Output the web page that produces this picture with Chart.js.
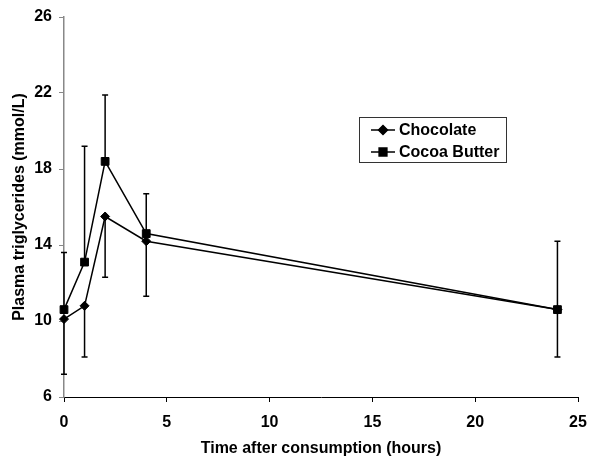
<!DOCTYPE html>
<html>
<head>
<meta charset="utf-8">
<script src="https://cdn.jsdelivr.net/npm/chart.js"></script>
<style>
  body { margin: 0; background: #fff; }
  #wrap { width: 589px; height: 458px; }
</style>
</head>
<body>
<div id="wrap"><canvas id="chart" width="589" height="458"></canvas></div>
<script>
// hours after consumption
const times = [0, 1, 2, 4, 24];
const chocolate = [10.1, 10.8, 15.5, 14.2, 10.6];
const cocoaButter = [10.6, 13.1, 18.4, 14.6, 10.6];
// one-sided error bars: chocolate drawn down, cocoa butter drawn up
const chocolateErr = [2.9, 2.7, 3.2, 2.9, 2.5];
const cocoaButterErr = [3.0, 6.1, 3.5, 2.1, 3.6];
const yTicks = [6, 10, 14, 18, 22, 26];
const xTicks = [0, 5, 10, 15, 20, 25];

const FONT = "'Liberation Sans', Arial, sans-serif";
Chart.defaults.font.family = FONT;
Chart.defaults.font.size = 16;
Chart.defaults.font.weight = 700;
Chart.defaults.color = '#000';

function toPoints(xs, ys) {
  return xs.map((x, i) => ({ x: x, y: ys[i] }));
}

// error bars, drawn through the chart's own scales
const errorBars = {
  id: 'errorBars',
  afterDatasetsDraw(chart) {
    const ctx = chart.ctx;
    const xs = chart.scales.x, ys = chart.scales.y;
    const sets = [
      { vals: chocolate, err: chocolateErr, dir: -1 },
      { vals: cocoaButter, err: cocoaButterErr, dir: 1 }
    ];
    ctx.save();
    ctx.strokeStyle = '#000';
    ctx.lineWidth = 1.5;
    sets.forEach(s => {
      times.forEach((t, i) => {
        const px = xs.getPixelForValue(t);
        const y0 = ys.getPixelForValue(s.vals[i]);
        const y1 = ys.getPixelForValue(s.vals[i] + s.dir * s.err[i]);
        ctx.beginPath();
        ctx.moveTo(px, y0);
        ctx.lineTo(px, y1);
        ctx.moveTo(px - 3, y1);
        ctx.lineTo(px + 3, y1);
        ctx.stroke();
      });
    });
    ctx.restore();
  }
};

// boxed legend inside the plot
const boxLegend = {
  id: 'boxLegend',
  afterDraw(chart) {
    const ctx = chart.ctx;
    const x0 = 359.5, y0 = 117.5, w = 147, h = 45;
    ctx.save();
    ctx.strokeStyle = '#333';
    ctx.lineWidth = 1;
    ctx.strokeRect(x0, y0, w, h);
    ctx.font = 'bold 16px ' + FONT;
    ctx.textBaseline = 'middle';
    ctx.fillStyle = '#000';
    chart.data.datasets.forEach((ds, i) => {
      const cy = 130 + i * 22;
      ctx.strokeStyle = '#000';
      ctx.lineWidth = 1.5;
      ctx.beginPath();
      ctx.moveTo(371, cy);
      ctx.lineTo(395, cy);
      ctx.stroke();
      Chart.helpers.drawPoint(ctx, {
        pointStyle: ds.pointStyle, radius: ds.pointRadius, borderWidth: 1
      }, 383, cy);
      ctx.fillStyle = '#000';
      ctx.fill();
      ctx.fillText(ds.label, 399, cy + 0.5);
    });
    ctx.restore();
  }
};

const tickFont = () => ({ family: FONT, size: 16, weight: 700 });
const titleFont = { family: FONT, size: 16, weight: 'bold' };

new Chart(document.getElementById('chart'), {
  type: 'line',
  data: {
    datasets: [
      {
        label: 'Chocolate',
        data: toPoints(times, chocolate),
        borderColor: '#000',
        backgroundColor: '#000',
        borderWidth: 1.5,
        pointStyle: 'rectRot',
        pointRadius: 4.5,
        pointBorderWidth: 1,
        clip: false
      },
      {
        label: 'Cocoa Butter',
        data: toPoints(times, cocoaButter),
        borderColor: '#000',
        backgroundColor: '#000',
        borderWidth: 1.5,
        pointStyle: 'rect',
        pointRadius: 5.5,
        pointBorderWidth: 1,
        clip: false
      }
    ]
  },
  options: {
    responsive: false,
    animation: false,
    events: [],
    layout: { autoPadding: false, padding: { top: 17, right: 11, left: 0, bottom: 0 } },
    plugins: { legend: { display: false }, tooltip: { enabled: false } },
    scales: {
      x: {
        type: 'linear',
        min: 0, max: 25,
        afterFit(s) { s.height = 61; s.paddingLeft = 0; s.paddingRight = 0; },
        afterBuildTicks(s) { s.ticks = xTicks.map(v => ({ value: v })); },
        border: { display: true, color: '#000', width: 1 },
        grid: { drawOnChartArea: false, drawTicks: true, tickLength: 5, color: '#000' },
        ticks: { color: '#000', padding: 11, autoSkip: false, maxRotation: 0, font: tickFont },
        title: { display: true, text: 'Time after consumption (hours)', color: '#000',
                 padding: { top: 0, bottom: 0 }, font: titleFont }
      },
      y: {
        min: 6, max: 26,
        afterFit(s) { s.width = 64; s.paddingTop = 0; s.paddingBottom = 0; },
        afterBuildTicks(s) { s.ticks = yTicks.map(v => ({ value: v })); },
        border: { display: true, color: '#888', width: 1.5 },
        grid: { drawOnChartArea: false, drawTicks: true, tickLength: 5, color: '#888' },
        ticks: { color: '#000', padding: 7, autoSkip: false, font: tickFont },
        title: { display: true, text: 'Plasma triglycerides (mmol/L)', color: '#000',
                 padding: { top: 10, bottom: 0 }, font: titleFont }
      }
    }
  },
  plugins: [errorBars, boxLegend]
});
</script>
</body>
</html>
